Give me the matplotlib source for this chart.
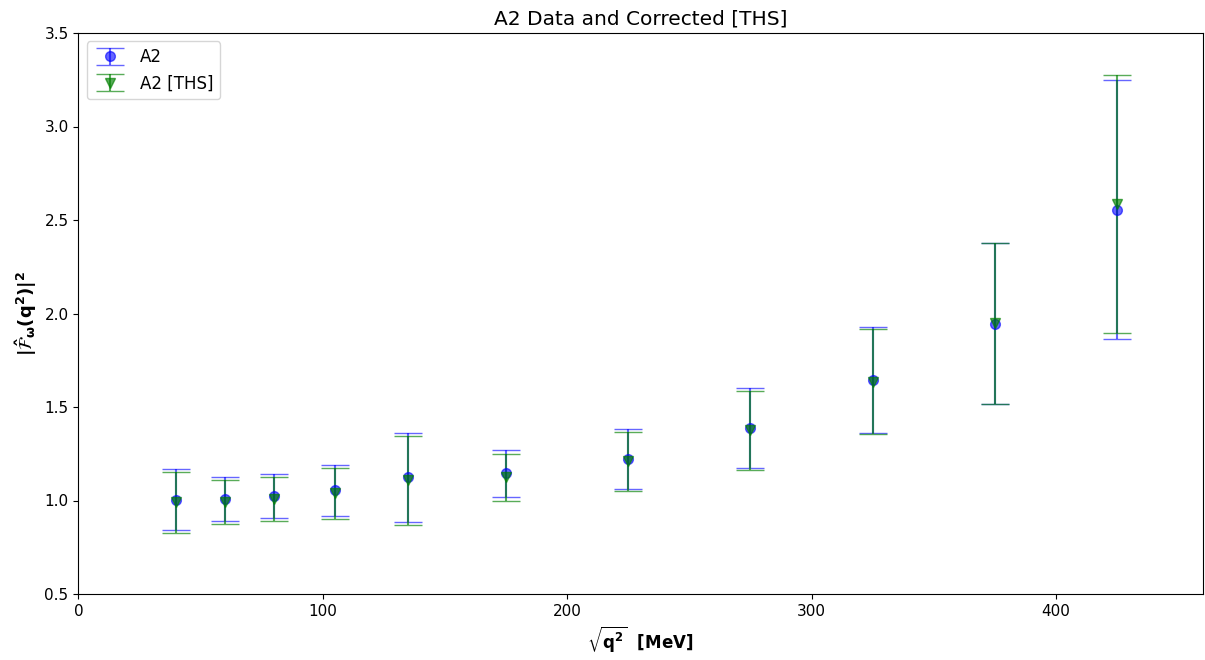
import numpy as np
import matplotlib
matplotlib.use('Agg')
import matplotlib.pyplot as plt

# sqrt(q^2) in MeV
q = [40, 60, 80, 105, 135, 175, 225, 275, 325, 375, 425]

# A2 data
a2 = [1.004, 1.009, 1.025, 1.055, 1.124, 1.145, 1.223, 1.389, 1.644, 1.946, 2.554]
a2_err = [0.163, 0.118, 0.118, 0.137, 0.238, 0.126, 0.161, 0.215, 0.282, 0.430, 0.693]

# A2 corrected [THS]
ths = [0.990, 0.993, 1.009, 1.039, 1.108, 1.124, 1.210, 1.376, 1.636, 1.948, 2.587]
ths_err = [0.164, 0.118, 0.118, 0.137, 0.238, 0.126, 0.158, 0.212, 0.279, 0.430, 0.689]

fig, ax = plt.subplots(figsize=(12.05, 6.6), dpi=100)

ax.errorbar(q, a2, yerr=a2_err, fmt='o', color='blue', alpha=0.6,
            markersize=7, capsize=10, label='A2')
ax.errorbar(q, ths, yerr=ths_err, fmt='v', color='green', alpha=0.65,
            markersize=7, capsize=10, label='A2 [THS]')

ax.set_xlim(0, 460)
ax.set_ylim(0.5, 3.5)
ax.set_title('A2 Data and Corrected [THS]', fontsize=14.5)
ax.set_xlabel(r'$\sqrt{\mathbf{q^2}}$  [MeV]', fontsize=12, fontweight='bold')
ax.set_ylabel(r'$\mathbf{|\hat{\mathcal{F}}_\omega(q^2)|^2}$', fontsize=13, fontweight='bold')
ax.tick_params(labelsize=11)
ax.legend(loc='upper left', fontsize=12)

plt.subplots_adjust(left=0.065, right=0.998, top=0.95, bottom=0.1)
plt.savefig('out.png')
